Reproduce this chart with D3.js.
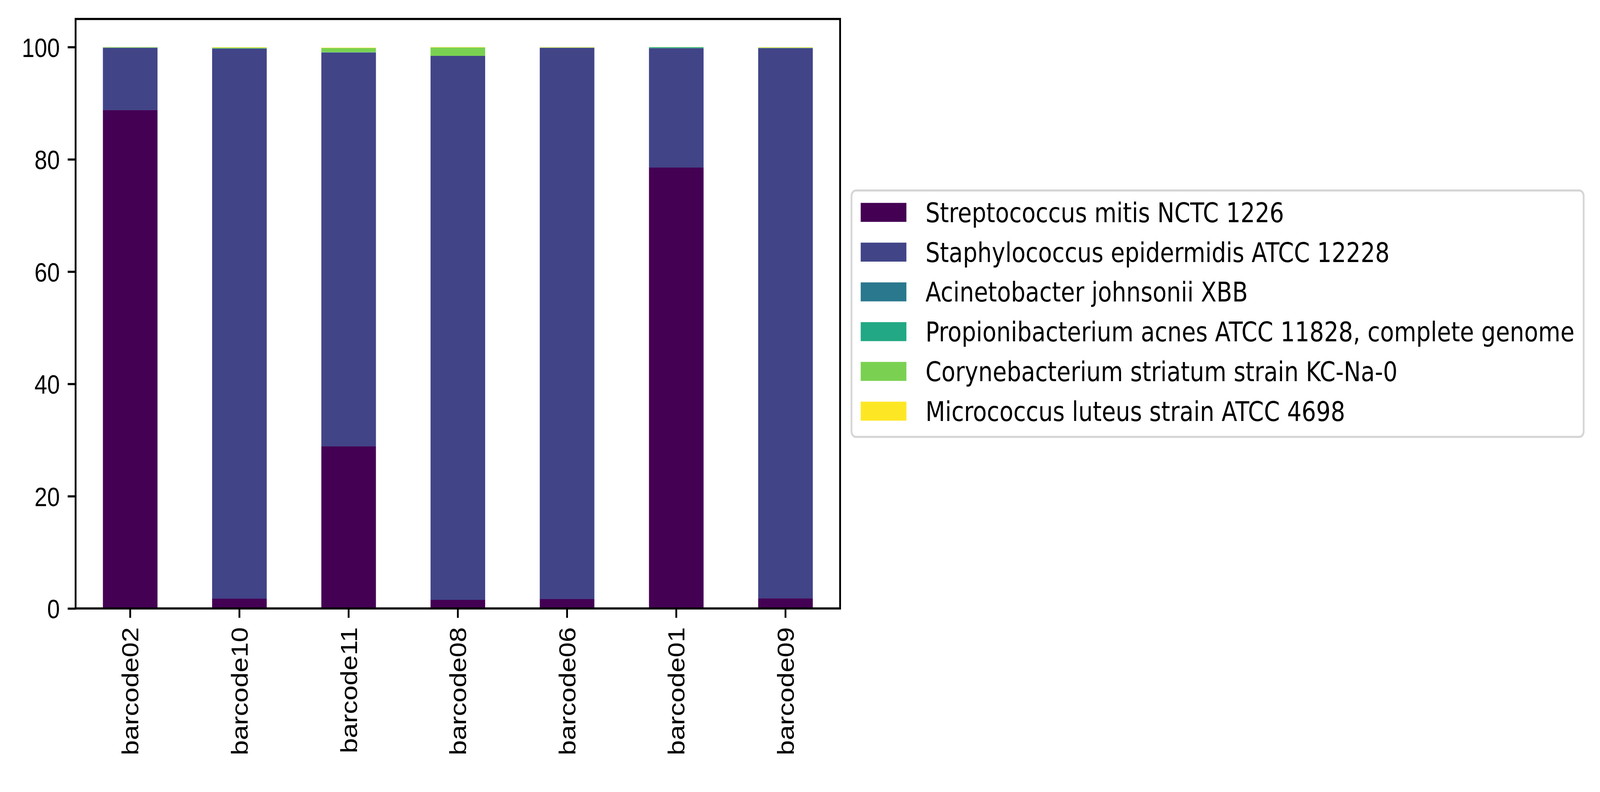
<!DOCTYPE html>
<html lang="en">
<head>
  <meta charset="UTF-8">
  <title>Species abundance per barcode</title>
  <style>
    html, body {
      margin: 0;
      padding: 0;
      background-color: white;
      overflow: hidden;
    }

    svg {
      display: block;
      width: 100vw;
      height: 100vh;
      font-family: "DejaVu Sans", sans-serif;
    }

    .tick text {
      font-size: 69.4px;
      fill: black;
    }
  </style>
</head>
<body>

  <div id="chart"></div>

  <script src="https://d3js.org/d3.v7.min.js"></script>
  <script>
    // Bar categories in plotted order
    const barcodes = ['barcode02', 'barcode10', 'barcode11', 'barcode08', 'barcode06', 'barcode01', 'barcode09'];

    const species = [
      'Streptococcus mitis NCTC 1226',
      'Staphylococcus epidermidis ATCC 12228',
      'Acinetobacter johnsonii XBB',
      'Propionibacterium acnes ATCC 11828, complete genome',
      'Corynebacterium striatum strain KC-Na-0',
      'Micrococcus luteus strain ATCC 4698'
    ];

    // Percentages per barcode
    const streptococcus     = [88.77, 1.74, 28.87, 1.53, 1.67, 78.54, 1.80];
    const staphylococcus    = [11.10, 97.96, 70.14, 96.90, 98.17, 21.26, 98.00];
    const acinetobacter     = [0.00, 0.07, 0.07, 0.00, 0.05, 0.00, 0.05];
    const propionibacterium = [0.05, 0.00, 0.00, 0.00, 0.00, 0.15, 0.00];
    const corynebacterium   = [0.05, 0.12, 0.74, 1.50, 0.03, 0.05, 0.05];
    const micrococcus       = [0.03, 0.07, 0.07, 0.07, 0.07, 0.00, 0.07];

    const yTicks = [0, 20, 40, 60, 80, 100];

    const seriesValues = [streptococcus, staphylococcus, acinetobacter, propionibacterium, corynebacterium, micrococcus];
    const colors = ['#440154', '#414487', '#2a788e', '#22a884', '#7ad151', '#fde725'];

    const width = 4868;
    const height = 2028;
    const fontSize = 69.4;
    const lw = 5.5;
    const plot = { left: 230, right: 2556, top: 48.6, bottom: 1558 };

    // build rows for d3.stack
    const table = barcodes.map((b, i) => {
      const row = { barcode: b };
      species.forEach((s, j) => { row[s] = seriesValues[j][i]; });
      return row;
    });

    const stacked = d3.stack().keys(species)(table);

    // the window can come out narrower than the figure, so stretch the
    // 4868x2028 drawing over whatever space there is
    const svg = d3.select('#chart').append('svg')
      .attr('viewBox', `0 0 ${width} ${height}`)
      .attr('preserveAspectRatio', 'none');

    svg.append('rect')
      .attr('width', width).attr('height', height)
      .attr('fill', 'white');

    const x = d3.scaleBand()
      .domain(barcodes)
      .range([plot.left, plot.right])
      .paddingInner(0.5)
      .paddingOuter(0.25);

    const y = d3.scaleLinear()
      .domain([0, 105])
      .range([plot.bottom, plot.top]);

    // Bars
    svg.append('g')
      .selectAll('g')
      .data(stacked)
      .enter().append('g')
      .attr('fill', (d, i) => colors[i])
      .selectAll('rect')
      .data(d => d)
      .enter().append('rect')
      .attr('x', d => x(d.data.barcode))
      .attr('width', x.bandwidth())
      .attr('y', d => y(d[1]))
      .attr('height', d => y(d[0]) - y(d[1]));

    // Y axis
    const yAxis = svg.append('g')
      .attr('transform', `translate(${plot.left},0)`)
      .call(d3.axisLeft(y).tickValues(yTicks).tickSize(24).tickPadding(24));
    yAxis.select('.domain').remove();
    yAxis.selectAll('.tick line').attr('stroke', 'black').attr('stroke-width', lw);
    yAxis.selectAll('.tick text').attr('dy', '0.36em');

    // X axis, labels turned upright
    const xAxis = svg.append('g')
      .attr('transform', `translate(0,${plot.bottom})`)
      .call(d3.axisBottom(x).tickSize(24).tickPadding(24));
    xAxis.select('.domain').remove();
    xAxis.selectAll('.tick line').attr('stroke', 'black').attr('stroke-width', lw);
    xAxis.selectAll('.tick text')
      .attr('transform', 'rotate(-90)')
      .attr('x', -48)
      .attr('y', 0)
      .attr('dy', '0.36em')
      .style('text-anchor', 'end');

    // Spines
    svg.append('rect')
      .attr('x', plot.left).attr('y', plot.top)
      .attr('width', plot.right - plot.left)
      .attr('height', plot.bottom - plot.top)
      .attr('fill', 'none')
      .attr('stroke', 'black')
      .attr('stroke-width', lw);

    // Legend
    const legendX = plot.right + 0.5 * fontSize;
    const rowGap = 101.8;
    const legendH = 631;
    const legendY = (plot.top + plot.bottom) / 2 - legendH / 2;

    const legend = svg.append('g')
      .attr('transform', `translate(${legendX},${legendY})`);

    const frame = legend.append('rect')
      .attr('rx', 14).attr('ry', 14)
      .attr('height', legendH)
      .attr('fill', 'white')
      .attr('stroke', '#d6d6d6')
      .attr('stroke-width', lw);

    const items = legend.selectAll('.item')
      .data(species)
      .enter().append('g')
      .attr('class', 'item')
      .attr('transform', (d, i) => `translate(0,${56 + i * rowGap})`);

    items.append('rect')
      .attr('x', 28)
      .attr('y', -24.3)
      .attr('width', 139)
      .attr('height', 48.6)
      .attr('fill', (d, i) => colors[i]);

    items.append('text')
      .attr('x', 225)
      .attr('y', 25)
      .attr('font-size', fontSize)
      .attr('fill', 'black')
      .text(d => d);

    let maxText = 0;
    items.selectAll('text').each(function() {
      maxText = Math.max(maxText, this.getComputedTextLength());
    });
    frame.attr('width', 225 + maxText + 28);
  </script>
</body>
</html>
